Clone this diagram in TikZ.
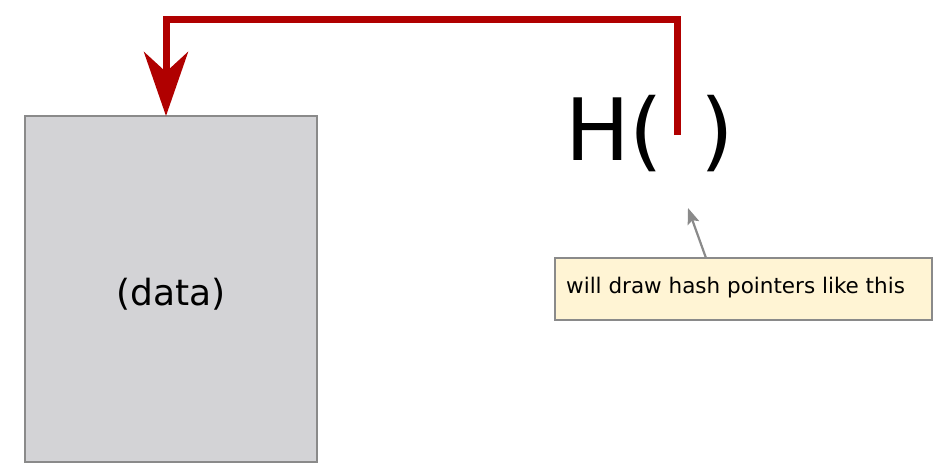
\documentclass[tikz,border=0pt]{standalone}
\usepackage{fontspec}
\setmainfont{DejaVu Sans}
\usetikzlibrary{arrows.meta}
\definecolor{ptrred}{HTML}{B00000}
\definecolor{boxgray}{HTML}{D3D3D6}
\definecolor{edgegray}{HTML}{8A8A8A}
\definecolor{cream}{HTML}{FFF4D4}
\tikzset{
  databox/.style={draw=edgegray, line width=1.8pt, fill=boxgray, minimum width=292pt, minimum height=346pt, inner sep=0pt},
  callout/.style={draw=edgegray, line width=1.3pt, fill=cream, minimum width=377pt, minimum height=62pt, inner sep=0pt},
  ptr/.style={draw=ptrred, line width=7pt, -{Stealth[length=64pt, width=44pt, inset=20pt]}},
  notearrow/.style={draw=edgegray, line width=2.2pt, -{Stealth[length=16pt, width=12pt, inset=3pt]}}
}
\begin{document}
\begin{tikzpicture}[x=1pt, y=-1pt]
\useasboundingbox (0,0) rectangle (940,471);
\node[databox] (data) at (171,289) {};
\node[font=\fontsize{36}{42}\selectfont] (dlabel) at (171,294) {(data)};
\node[font=\fontsize{86}{100}\selectfont, anchor=base west, inner sep=0pt] (hopen) at (565,160) {H(};
\node[font=\fontsize{86}{100}\selectfont, anchor=base west, inner sep=0pt] (hclose) at (700,160) {)};
\coordinate (src) at (677,135);
\coordinate (tgt) at (166,116);
\draw[ptr] (src) |- (166,19) -- (tgt);
\node[callout] (note) at (743.5,289) {};
\node[font=\fontsize{21.5}{24}\selectfont, anchor=base west, inner sep=0pt] (notetext) at (566,293) {will draw hash pointers like this};
\coordinate (hole) at (688,208);
\draw[notearrow] (706,258) -- (hole);
\end{tikzpicture}
\end{document}
